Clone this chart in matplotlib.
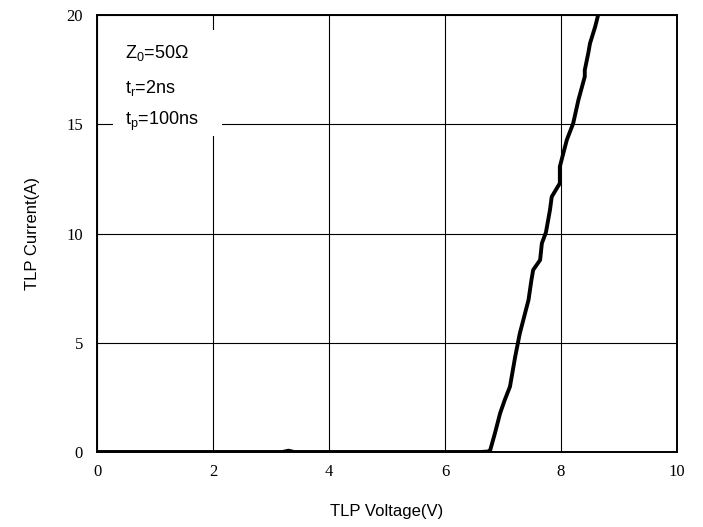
import numpy as np
import matplotlib
matplotlib.use('Agg')
import matplotlib.pyplot as plt
from matplotlib.patches import Rectangle

plt.rcParams['mathtext.fontset'] = 'custom'
plt.rcParams['mathtext.rm'] = 'Liberation Sans'
plt.rcParams['mathtext.it'] = 'Liberation Sans'

# TLP curve
voltage = [0.0, 3.2, 3.3, 3.4, 6.6, 6.74, 6.78, 6.86, 6.95, 7.03, 7.12, 7.21, 7.29, 7.35,
           7.44, 7.49, 7.52, 7.64, 7.67, 7.74, 7.81, 7.84, 7.98, 7.98, 8.10,
           8.21, 8.30, 8.41, 8.41, 8.47, 8.50, 8.59, 8.64]
current = [0.0, 0.0, 0.06, 0.0, 0.0, 0.02, 0.09, 0.85, 1.77, 2.38, 2.99, 4.36, 5.43, 6.04,
           6.96, 7.87, 8.33, 8.79, 9.55, 10.05, 11.08, 11.68, 12.3, 13.06, 14.28,
           15.04, 16.11, 17.18, 17.48, 18.25, 18.7, 19.47, 20.0]

x_ticks = [0, 2, 4, 6, 8, 10]
y_ticks = [0, 5, 10, 15, 20]

notes = ['Z$_0$=50Ω', 't$_r$=2ns', 't$_p$=100ns']
note_y = [18.05, 16.45, 14.95]

fig = plt.figure(figsize=(7.03, 5.27), dpi=100)
ax = fig.add_axes([97/703, 75/527, 580/703, 437/527])

ax.plot(voltage, current, color='black', linewidth=2.8, zorder=4,
        solid_joinstyle='round', solid_capstyle='round')

ax.set_xlim(0, 10)
ax.set_ylim(0, 20)
ax.set_xticks(x_ticks)
ax.set_yticks(y_ticks)
ax.grid(True, color='black', linewidth=0.8, zorder=1)
ax.set_axisbelow(True)
ax.tick_params(axis='x', length=0, pad=9)
ax.tick_params(axis='y', length=0, pad=10)
for lab in ax.get_xticklabels() + ax.get_yticklabels():
    lab.set_fontfamily('Liberation Serif')
    lab.set_fontsize(12)
for sp in ax.spines.values():
    sp.set_linewidth(1.4)

ax.set_xlabel('TLP Voltage(V)', fontfamily='Liberation Sans', fontsize=12, labelpad=17)
ax.set_ylabel('TLP Current(A)', fontfamily='Liberation Sans', fontsize=12, labelpad=19)

# white patch behind the notes, hides the grid there
ax.add_patch(Rectangle((0.28, 14.45), 1.88, 4.85, facecolor='white', edgecolor='none', zorder=2))
for s, yy in zip(notes, note_y):
    ax.text(0.48, yy, s, fontsize=13, fontfamily='Liberation Sans',
            va='baseline', ha='left', zorder=3)

fig.savefig('out.png', dpi=100)
